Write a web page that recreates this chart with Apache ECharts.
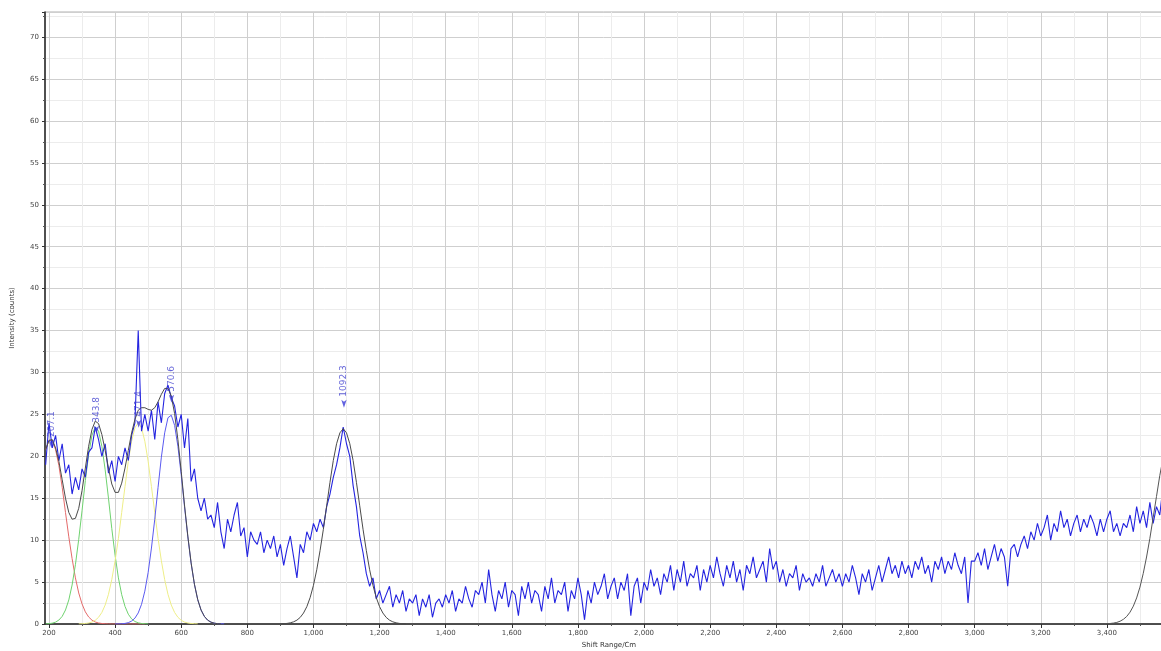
<!DOCTYPE html>
<html>
<head>
<meta charset="utf-8">
<script src="https://cdn.jsdelivr.net/npm/echarts@6/dist/echarts.min.js"></script>
<style>
html,body{margin:0;padding:0;background:#fff;}
#chart{width:1161px;height:651px;}
</style>
</head>
<body>
<div id="chart"></div>
<script>
// ---- axis ticks ----
const xMajorTicks = [200,400,600,800,1000,1200,1400,1600,1800,2000,2200,2400,2600,2800,3000,3200,3400,3600];
const xMinorTicks = [300,500,700,900,1100,1300,1500,1700,1900,2100,2300,2500,2700,2900,3100,3300,3500];

// ---- measured spectrum (Raman shift starts at 190, every 10) ----
const spectrumStart = 190;
const spectrumStep = 10;
const spectrum = [
 19,24,21,22.5,19.5,21.5,18,19,15.5,17.5,16,18.5,
 17.5,20.5,21,23.5,22,20,21.5,18,19.5,17,
 20,19,21,19.5,22.5,24,35,23,25,23,
 25.5,22,26.5,24,27.5,28.5,27,26,23.5,25,
 21,24.5,17,18.5,15,13.5,15,12.5,13,11.5,
 14.5,11,9,12.5,11,13,14.5,10.5,11.5,8,
 11,10,9.5,11,8.5,10,9,10.5,8,9.5,
 7,9,10.5,8,5.5,9.5,8.5,11,10,
 12,11,12.5,11.5,14,15.5,17.5,19,21,23.5,
 21.5,20,16.5,14,10.5,8.5,6,4.5,5.5,3,
 4,2.5,3.5,4.5,2,3.5,2.5,4,1.5,3,
 2.5,3.5,1,3,2,3.5,0.8,2.5,3,2,
 3.5,2.5,4,1.5,3,2.5,4.5,3,2,4,
 3.5,5,2.5,6.5,3.5,1.5,4,3,5,2,
 4,3.5,1,4.5,3,5,2.5,4,3.5,1.5,
 4.5,3,5.5,2.5,4,3.5,5,1.5,4,3,
 5.5,3.5,0.5,4,2.5,5,3.5,4.5,6,3,
 4.5,5.5,3,5,4,6,1,4.5,5.5,2.5,
 5,4,6.5,4.5,5.5,3.5,6,5,7,4,
 6.5,5,7.5,4.5,6,5.5,7,4,6.5,5,
 7,5.5,8,6,4.5,7,5.5,7.5,5,6.5,
 4,7,6,8,5.5,6.5,7.5,5,9,6.5,
 7.5,5,6.5,4.5,6,5.5,7,4,6,5,
 5.5,4.5,6,5,7,4.5,5.5,6.5,5,6,
 4.5,6,5,7,5.5,3.5,6,5,6.5,4,
 5.5,7,5,6.5,8,6,7,5.5,7.5,6,
 7,5.5,7.5,6.5,8,6,7,5,7.5,6.5,
 8,6,7.5,6.5,8.5,7,6,8,2.5,7.5,
 7.5,8.5,7,9,6.5,8,9.5,7.5,9,8,
 4.5,9,9.5,8,9.5,10.5,9,11,10,12,
 10.5,11.5,13,10,12,11,13.5,11.5,12.5,10.5,
 12,13,11,12.5,11.5,13,12,10.5,12.5,11,
 12.5,13.5,11,12,10.5,12,11.5,13,11,14,
 12,13.5,11.5,14.5,12,14,13,16.5,17
];

// ---- fitted components (start shift, every 10) ----
const compStep = 10;
const redStart = 190;
const redFit = [20.8,21.9,21.9,20.8,18.9,16.3,13.3,10.4,7.8,5.5,3.7,2.4,1.45,0.84,0.46,0.24,0.12,0.06,0.03,0.01,0,0,0,0,0,0,0,0,0,0,0];
const greenStart = 190;
const greenFit = [0.02,0.04,0.10,0.22,0.47,0.91,1.67,2.87,4.65,7.07,10.1,13.5,17.1,20.2,22.5,23.5,23.0,21.2,18.4,15.0,11.4,8.2,5.5,3.5,2.1,1.17,0.61,0.30,0.14,0.06,0.03,0.01];
const yellowStart = 290;
const yellowFit = [0.01,0.03,0.06,0.12,0.23,0.44,0.80,1.38,2.26,3.54,5.29,7.54,10.2,13.3,16.4,19.4,21.8,23.4,24,23.4,21.8,19.4,16.4,13.3,10.2,7.54,5.29,3.54,2.26,1.38,0.80,0.44,0.23,0.12,0.06,0.03,0.01];
const blueStart = 400;
const blueFit = [0,0.01,0.03,0.07,0.16,0.35,0.70,1.32,2.35,3.92,6.15,9.06,12.5,16.3,19.9,22.8,24.6,24.9,23.7,21.2,17.8,14.0,10.4,7.23,4.72,2.90,1.67,0.91,0.46,0.22,0.10,0.04,0.02,0.01];
const envelopeStart = 190;
const envelopeFit = [20.8,21.9,22.0,21.0,19.4,17.2,15.0,13.3,12.5,12.6,13.8,15.9,18.6,21.2,23.2,24.2,23.9,22.6,20.7,18.6,16.7,15.7,15.7,16.8,18.6,20.7,22.8,24.4,25.5,25.8,25.8,25.6,25.5,25.8,26.5,27.4,28.1,28.1,27.2,25.1,22.0,18.2,14.2,10.5,7.3,4.75,2.9,1.67,0.91,0.46,0.22,0.10,0.04,0.02];
const peak1092Start = 900;
const peak1092Fit = [0.02,0.04,0.07,0.14,0.26,0.46,0.79,1.31,2.07,3.15,4.61,6.47,8.75,11.3,14.1,16.9,19.5,21.5,22.8,23.3,22.8,21.5,19.5,16.9,14.1,11.3,8.75,6.47,4.61,3.15,2.07,1.31,0.79,0.46,0.26,0.14,0.07,0.04,0.02];
const peak3600Start = 3380;
const peak3600Fit = [0.01,0.02,0.03,0.06,0.11,0.19,0.33,0.56,0.90,1.41,2.13,3.11,4.40,6.03,7.99,10.2,12.7,15.2,17.7,19.8,21.5,22.6,23];

// ---- peak labels ----
const peakShift = [207.1, 343.8, 471.4, 570.6, 1092.3];
const peakLabelText = ['207.1', '343.8', '471.4', '570.6', '1092.3'];
const peakMarkY = [21.0, 22.7, 23.4, 26.4, 25.8];

function pairs(start, step, vals) {
  return vals.map((v, i) => [start + i * step, v]);
}
function fmt(v) {
  return String(v).replace(/\B(?=(\d{3})+(?!\d))/g, ',');
}

const FONT = 'DejaVu Sans';
const chart = echarts.init(document.getElementById('chart'), null, {renderer: 'canvas'});

function compLine(name, start, vals, color, z) {
  return {
    name: name, type: 'line', xAxisIndex: 0, yAxisIndex: 0,
    data: pairs(start, compStep, vals), showSymbol: false, silent: true,
    lineStyle: {color: color, width: 1}, z: z
  };
}

chart.setOption({
  animation: false,
  backgroundColor: '#ffffff',
  grid: {left: 45, top: 12, right: -12, bottom: 27, containLabel: false, outerBoundsMode: 'none',
         show: true, borderColor: '#b0b0b0', borderWidth: 1, backgroundColor: '#ffffff'},
  xAxis: [{
    type: 'value', min: 188, max: 3600, position: 'bottom',
    name: 'Shift Range/Cm', nameLocation: 'middle', nameGap: 16,
    nameTextStyle: {fontFamily: FONT, fontSize: 7, color: '#333'},
    axisLine: {show: true, onZero: false, lineStyle: {color: '#222', width: 1.5}},
    axisTick: {show: true, customValues: xMajorTicks, length: 4, lineStyle: {color: '#333'}},
    axisLabel: {show: true, customValues: xMajorTicks, formatter: fmt, fontFamily: FONT, fontSize: 7, color: '#444', margin: 6, hideOverlap: false},
    splitLine: {show: true, lineStyle: {color: '#cfcfcf', width: 1}}
  }, {
    type: 'value', min: 188, max: 3600, position: 'bottom',
    axisLine: {show: false},
    axisTick: {show: true, customValues: xMinorTicks, length: 2, lineStyle: {color: '#555'}},
    axisLabel: {show: false},
    splitLine: {show: true, lineStyle: {color: '#ececec', width: 1}}
  }],
  yAxis: {
    type: 'value', min: 0, max: 73, interval: 5,
    name: 'Intensity (counts)', nameLocation: 'middle', nameGap: 29, nameRotate: 90,
    nameTextStyle: {fontFamily: FONT, fontSize: 7, color: '#333'},
    axisLine: {show: true, lineStyle: {color: '#222', width: 1.5}},
    axisTick: {show: true, length: 3, lineStyle: {color: '#333'}},
    minorTick: {show: true, splitNumber: 2, length: 2, lineStyle: {color: '#555'}},
    axisLabel: {fontFamily: FONT, fontSize: 7, color: '#444', margin: 6, showMaxLabel: false},
    splitLine: {show: true, lineStyle: {color: '#cfcfcf', width: 1}},
    minorSplitLine: {show: true, lineStyle: {color: '#ececec', width: 1}}
  },
  series: [
    compLine('red', redStart, redFit, '#e46a6a', 3),
    compLine('green', greenStart, greenFit, '#6fd26f', 3),
    compLine('yellow', yellowStart, yellowFit, '#eeee88', 3),
    compLine('blue', blueStart, blueFit, '#5a5af0', 3),
    {
      name: 'spectrum', type: 'line', data: pairs(spectrumStart, spectrumStep, spectrum),
      showSymbol: false, silent: true, lineStyle: {color: '#2424e0', width: 1.1}, z: 4
    },
    compLine('envelope', envelopeStart, envelopeFit, '#4a4a4a', 5),
    compLine('peak1092', peak1092Start, peak1092Fit, '#4a4a4a', 5),
    compLine('peak3600', peak3600Start, peak3600Fit, '#555555', 5),
    {
      name: 'peaks', type: 'scatter', z: 6, silent: true,
      data: peakShift.map((s, i) => ({value: [s, peakMarkY[i]], label: {formatter: peakLabelText[i]}})),
      symbol: 'arrow', symbolSize: [4, 8], symbolRotate: 180,
      itemStyle: {color: '#3a3ad8'},
      label: {show: true, position: 'top', distance: 3, rotate: 90, align: 'left', verticalAlign: 'middle',
              fontFamily: FONT, fontSize: 9, color: '#4040d0'}
    }
  ]
});
</script>
</body>
</html>
